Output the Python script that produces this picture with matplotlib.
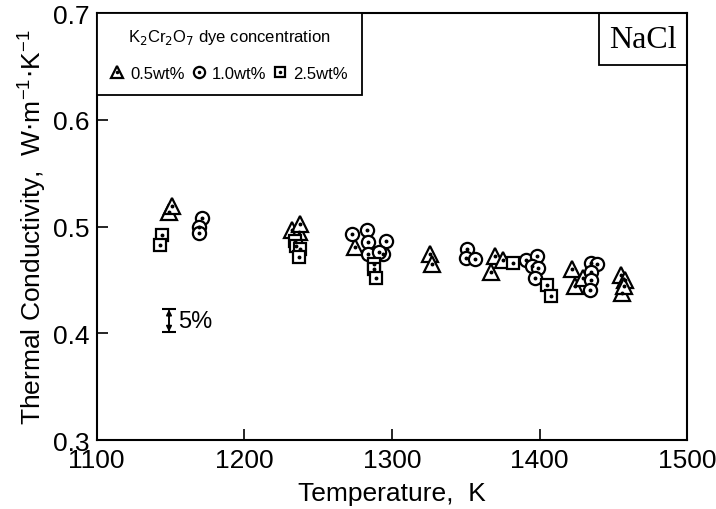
import matplotlib
matplotlib.use('Agg')
from matplotlib import pyplot as plt
from matplotlib.patches import Rectangle

# 0.5 wt% dye (triangles)
tri_T = [1149, 1151, 1232, 1237, 1238, 1275, 1326, 1327, 1367, 1370, 1375,
         1422, 1424, 1429, 1455, 1456, 1458, 1457]
tri_k = [0.514, 0.519, 0.497, 0.495, 0.503, 0.481, 0.474, 0.465, 0.458, 0.473,
         0.469, 0.460, 0.444, 0.452, 0.455, 0.4375, 0.450, 0.444]

# 1.0 wt% dye (circles)
circ_T = [1171, 1169, 1169, 1273, 1283, 1284, 1296, 1284, 1294, 1291, 1351,
          1350, 1356, 1391, 1398, 1395, 1399, 1397, 1435, 1439, 1435, 1435,
          1434]
circ_k = [0.508, 0.500, 0.494, 0.493, 0.497, 0.486, 0.487, 0.474, 0.474,
          0.476, 0.479, 0.471, 0.4695, 0.469, 0.473, 0.463, 0.4615, 0.452,
          0.466, 0.4647, 0.458, 0.450, 0.4407]

# 2.5 wt% dye (squares)
sq_T = [1144, 1143, 1234, 1235, 1238, 1237, 1288, 1288, 1289, 1382, 1405, 1408]
sq_k = [0.492, 0.483, 0.487, 0.482, 0.479, 0.472, 0.465, 0.460, 0.452, 0.466,
        0.4455, 0.435]

x_ticks = [1100, 1200, 1300, 1400, 1500]
y_ticks = [0.3, 0.4, 0.5, 0.6, 0.7]

plt.rcParams['font.family'] = ['Liberation Sans', 'DejaVu Sans']

fig = plt.figure(figsize=(7.16, 5.10), dpi=100)
ax = fig.add_axes([0.135, 0.135, 0.825, 0.837])

series = [
    (tri_T, tri_k, '^', 11, '0.5wt%'),
    (circ_T, circ_k, 'o', 9.5, '1.0wt%'),
    (sq_T, sq_k, 's', 9, '2.5wt%'),
]
handles = []
for T, k, m, ms, lab in series:
    h1, = ax.plot(T, k, ls='none', marker=m, ms=ms, mfc='white', mec='black',
                  mew=1.6)
    h2, = ax.plot(T, k, ls='none', marker='o', ms=1.8, color='black')
    handles.append((h1, h2))

# 5% error indicator
ax.errorbar([1149], [0.412], yerr=[0.0105], fmt='none', ecolor='black',
            capsize=5, elinewidth=1.2, capthick=1.5)
ax.annotate('', xy=(1149, 0.4015), xytext=(1149, 0.4225),
            arrowprops=dict(arrowstyle='<|-|>', color='black', lw=1.2,
                            mutation_scale=8, shrinkA=0, shrinkB=0))
ax.text(1155, 0.412, '5%', fontsize=17, va='center', ha='left')

ax.set_xlim(1100, 1500)
ax.set_ylim(0.3, 0.7)
ax.set_xticks(x_ticks)
ax.set_yticks(y_ticks)
ax.set_yticklabels(['%.1f' % v for v in y_ticks])
ax.tick_params(direction='in', length=8, width=1.2, labelsize=19,
               top=False, right=False)
ax.tick_params(axis='x', pad=6)
ax.tick_params(axis='y', pad=5)
for s in ax.spines.values():
    s.set_linewidth(1.5)

ax.set_xlabel('Temperature,  K', fontsize=19, labelpad=6)
ax.set_ylabel('Thermal Conductivity,  W$\\cdot$m$^{\\mathregular{-1}}$$\\cdot$K$^{\\mathregular{-1}}$',
              fontsize=19, labelpad=4)

leg = ax.legend(handles, ['0.5wt%', '1.0wt%', '2.5wt%'], ncol=3,
                loc='upper left', borderaxespad=0, fancybox=False,
                edgecolor='black', framealpha=1, fontsize=12,
                title='K$_2$Cr$_2$O$_7$ dye concentration',
                title_fontsize=12, handlelength=0.8, handletextpad=0.4,
                columnspacing=0.4, borderpad=0.85, labelspacing=1.15,
                markerscale=0.85)
leg.get_frame().set_linewidth(1.3)

# NaCl label box flush with the upper-right corner
ax.add_patch(Rectangle((0.851, 0.878), 0.149, 0.122, transform=ax.transAxes,
                       fill=False, ec='black', lw=1.3, zorder=5))
ax.text(0.9255, 0.939, 'NaCl', transform=ax.transAxes, ha='center',
        va='center', fontsize=23, family='Liberation Serif')

plt.savefig('out.png', dpi=100)
